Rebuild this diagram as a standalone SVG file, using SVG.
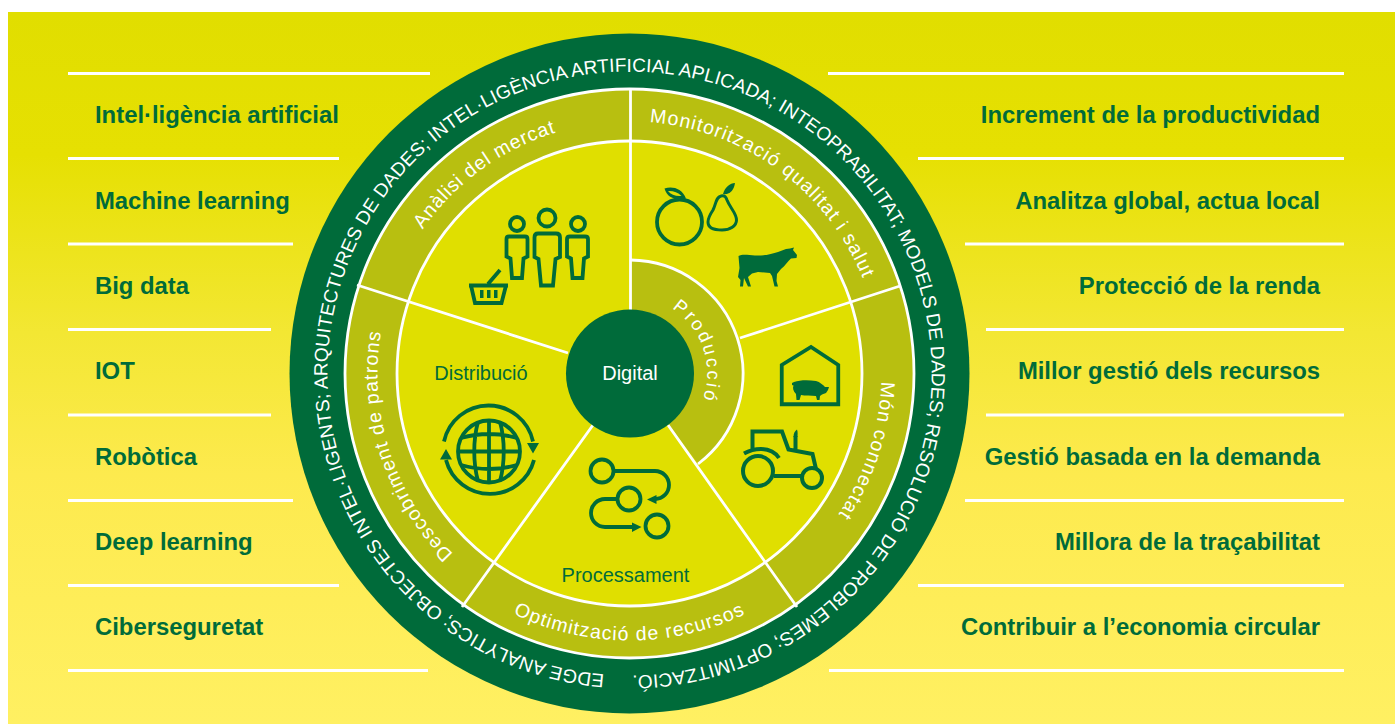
<svg xmlns="http://www.w3.org/2000/svg" width="1395" height="724" viewBox="0 0 1395 724">
<defs>
<linearGradient id="bg" x1="0" y1="12" x2="0" y2="724" gradientUnits="userSpaceOnUse">
<stop offset="0" stop-color="#e1de00"/><stop offset="0.2" stop-color="#e6e002"/><stop offset="0.45" stop-color="#f3e733"/><stop offset="0.65" stop-color="#fdea4e"/><stop offset="1" stop-color="#fff062"/>
</linearGradient>
<path id="pOuter" d="M629.5 675.5 A302 302 0 1 1 629.5 71.5 A302 302 0 1 1 629.5 675.5"/>
<path id="pMercat" d="M378.9 399.8 A252 252 0 0 1 732 143.3"/>
<path id="pMonit" d="M528.2 142.7 A252 252 0 0 1 880 401.1"/>
<path id="pMon" d="M843.2 239.9 A252 252 0 0 1 723.9 607.1"/>
<path id="pDesc" d="M577.1 620 A252 252 0 0 1 442.2 204.9"/>
<path id="pOpt" d="M398.3 507 A267 267 0 0 0 860.7 507"/>
<path id="pProd" d="M616 296.7 A78 78 0 0 1 668.5 441"/>
</defs>
<style>
text{font-family:"Liberation Sans",Arial,sans-serif}
.lab{font-weight:700;font-size:23.85px;fill:#006b3a}
.r{text-anchor:end}
.rule{stroke:#fff;stroke-width:2.8;fill:none}
.ring{fill:#fff;font-size:19px}
.arc{font-size:19.5px;text-anchor:middle;letter-spacing:1.1px}
.sec{font-size:20px;fill:#006b3a;text-anchor:middle}
.ic{fill:none;stroke:#006b3a;stroke-width:3.8}
.fi{fill:#006b3a}
.div{stroke:#fff;stroke-width:2.8;fill:none}
</style>
<rect width="1395" height="724" fill="#fff"/>
<rect x="8" y="12" width="1387" height="712" fill="url(#bg)"/>

<g id="rules">
<path class="rule" d="M68 73.5H430M68 158.5H339M68 244H293M68 329.5H271M68 415H271M68 500.5H293M68 585.5H339M68 670.5H428"/>
<path class="rule" d="M828 73.5H1344M918 158.5H1344M965 244H1344M986 329.5H1344M986 415H1344M965 500.5H1344M918 585.5H1344M829 670.5H1344"/>
</g>
<g id="labels-left">
<text class="lab" x="95" y="123">Intel·ligència artificial</text>
<text class="lab" x="95" y="209">Machine learning</text>
<text class="lab" x="95" y="294">Big data</text>
<text class="lab" x="95" y="379">IOT</text>
<text class="lab" x="95" y="465">Robòtica</text>
<text class="lab" x="95" y="550">Deep learning</text>
<text class="lab" x="95" y="635">Ciberseguretat</text>
</g>
<g id="labels-right">
<text class="lab r" x="1320" y="123">Increment de la productividad</text>
<text class="lab r" x="1320" y="209">Analitza global, actua local</text>
<text class="lab r" x="1320" y="294">Protecció de la renda</text>
<text class="lab r" x="1320" y="379">Millor gestió dels recursos</text>
<text class="lab r" x="1320" y="465">Gestió basada en la demanda</text>
<text class="lab r" x="1320" y="550">Millora de la traçabilitat</text>
<text class="lab r" x="1320" y="635">Contribuir a l’economia circular</text>
</g>

<g id="wheel">
<circle cx="629.5" cy="373.5" r="340" fill="#006b3a"/>
<circle cx="629.5" cy="373.5" r="284.5" fill="#b8bf10" stroke="#fff" stroke-width="2.8"/>
<circle cx="629.5" cy="373.5" r="232.5" fill="#e0df00" stroke="#fff" stroke-width="2.8"/>
<path d="M630.5 260 A113.5 113.5 0 0 1 698 464 L630 373Z" fill="#b8bf10"/>
<path d="M630.5 260 A113.5 113.5 0 0 1 698 464" fill="none" stroke="#fff" stroke-width="2.8"/>
</g>
<g id="connectors">
<path class="div" d="M630.5 89V310M357 285L568 353M900 286L740 338M462 607L593 425M797 607L668 425"/>
</g>
<g id="outer-text">
<text class="ring" style="letter-spacing:.1px"><textPath href="#pOuter" startOffset="25">EDGE ANALYTICS; OBJECTES INTEL·LIGENTS; ARQUITECTURES DE DADES; INTEL·LIGÈNCIA ARTIFICIAL APLICADA; INTEOPRABILITAT; MODELS DE DADES; RESOLUCIÓ DE PROBLEMES; OPTIMITZACIÓ.</textPath></text>
</g>
<g id="ring-labels">
<text class="ring arc" style="letter-spacing:.8px"><textPath href="#pMercat" startOffset="50%">Anàlisi del mercat</textPath></text>
<text class="ring arc"><textPath href="#pMonit" startOffset="50%">Monitorització qualitat i salut</textPath></text>
<text class="ring arc"><textPath href="#pMon" startOffset="50%">Món connectat</textPath></text>
<text class="ring arc"><textPath href="#pDesc" startOffset="50%">Descobriment de patrons</textPath></text>
<text class="ring arc"><textPath href="#pOpt" startOffset="50%">Optimització de recursos</textPath></text>
<text class="ring arc" style="font-size:18.5px;letter-spacing:2.6px"><textPath href="#pProd" startOffset="51.2%">Producció</textPath></text>
</g>

<g id="node-digital">
<circle cx="630" cy="373.5" r="64" fill="#006b3a"/>
<text x="630" y="380" fill="#fff" font-size="20" text-anchor="middle">Digital</text>
</g>

<g id="node-mercat">
<circle class="ic" cx="547" cy="218" r="8.5"/>
<path class="ic" d="M538 233.5H556Q560 233.5 560 237.5V257L555.5 259L553 285.5H541L538.5 259L534.500 257V237.500Q534.500 233.500 538 233.500Z"/>
<circle class="ic" cx="517" cy="224" r="7"/>
<path class="ic" d="M509 236.500H525Q527.500 236.500 527.500 239V256.500L523.500 258.500L522 278H512L510.500 258.500L506.500 256.500V239Q506.500 236.500 509 236.500Z"/>
<circle class="ic" cx="578" cy="224" r="7"/>
<path class="ic" d="M570 236.500H585Q588 236.500 588 239V256.500L584 258.500L582.500 278H572.500L571 258.500L567 256.500V239Q567 236.500 570 236.500Z"/>
<path class="ic" d="M469 285.500H508M471 285.500L475 303H501.500L506 285.500M488 284L500 270"/>
<path class="fi" d="M480 290h3.500v8h-3.500zM487 290h3.500v8h-3.500zM494 290h3.500v8h-3.500z"/>
</g>

<g id="node-monit">
<circle class="ic" cx="679.500" cy="222" r="22.500"/>
<path class="fi" d="M664.500 188.500C672 186 682 188 686 198.500C676 200.500 667 198 664.500 188.500ZM668 191C672 190.500 678 192 681.500 196C676 196.500 671 195 668 191Z" fill-rule="evenodd"/>
<path class="ic" style="stroke-width:3" d="M721 196C716 197 716 204 713 210C709 216 708 219 708 222C708 228 715 230 722 230C730 230 736.500 226 736.500 220C736.500 213 730 208 727 200C726 197 725 195 721 196Z"/>
<path class="fi" d="M723 194C725 187 730 183 735 183C734 190 730 195 723 194Z"/>
<path class="fi" d="M738.500 256C742 254 748 255 755 255.500C764 256 772 254 778 252L786 249L790 248.500L794 247.500L793 250L797 255L796.500 258L791 258.500C788 261 785 266 781 269L777 274L776.500 281L778 286.500L774.500 286.500L772 276L770 273L758 272L752 273.500L748 277L751 286.500L748 286.500L744 278L743 286.500L740 286.500L740.500 280L738 277L739.500 268Z"/>
</g>

<g id="node-mon">
<path class="ic" d="M781.750 404.250V365L811 347L838.250 365V404.250Z"/>
<path class="fi" d="M792 383L794 382C800 380 808 380 816 381C820 382 823 385 825 387L829 387L828 390L826 393L822 394.500L820 396L819.500 400H817L816 396C811 395.500 805 396 801 395L799.500 400H796.500L796 394C793 391 792.500 388 793.500 385.500L792 385Z"/>
<circle class="ic" style="stroke-width:4" cx="758" cy="471" r="15"/>
<circle class="ic" style="stroke-width:4" cx="812" cy="478" r="10"/>
<path class="ic" style="stroke-width:4" d="M744 453.500Q752 449 761 449Q773 449 779 458M752.500 449V431.500H782L788.500 449.500L812.500 454L816 469M774 476H801M795.500 450V436"/>
<path class="fi" d="M793.500 437C793.500 433 795 431 797 429.500C798 432 797.500 435 797.500 437Z"/>
</g>

<g id="node-distribucio">
<text class="sec" x="481" y="380">Distribució</text>
<circle class="ic" cx="489" cy="451.500" r="31"/>
<path class="ic" d="M489 420.500V482.500M478 422C473 440 473 463 478 481M500 422C505 440 505 463 500 481M458 451.500H520M461 438Q489 430 517 438M461 465Q489 473 517 465"/>
<path class="ic" d="M444 441.500A45.500 45.500 0 0 1 533 441.500M534 460A45.500 45.500 0 0 1 446 460"/>
<path class="fi" d="M527 443H539L533 453.500ZM440 459.500H452L446 449Z"/>
</g>

<g id="node-processament">
<text class="sec" x="625.500" y="581.500">Processament</text>
<circle class="ic" cx="602" cy="471" r="11.500"/>
<circle class="ic" cx="629" cy="499" r="11.500"/>
<circle class="ic" cx="657" cy="526" r="11.500"/>
<path class="ic" d="M613.500 471H655A14 14 0 0 1 655 499H652M617.500 499H605A14 14 0 0 0 605 527H634"/>
<path class="fi" d="M647 499.500L656.500 495V504ZM641.500 527L632 522.500V532Z"/>
</g>
</svg>
